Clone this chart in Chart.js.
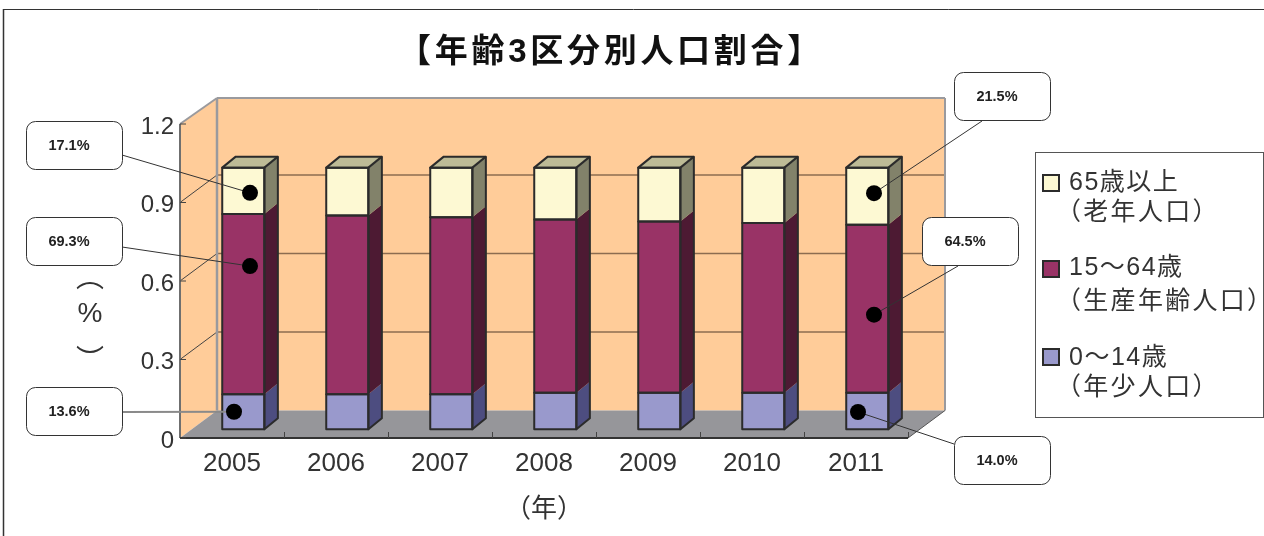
<!DOCTYPE html>
<html lang="ja">
<head>
<meta charset="utf-8">
<title>年齢3区分別人口割合</title>
<script src="https://cdn.jsdelivr.net/npm/chart.js@4"></script>
<style>
  html, body { margin: 0; padding: 0; background: #fff; overflow: hidden; }
  canvas { display: block; }
</style>
</head>
<body>
<canvas id="myChart" width="1264" height="536"></canvas>
<script>
const categories = ['2005', '2006', '2007', '2008', '2009', '2010', '2011'];
const young = [0.134, 0.134, 0.134, 0.14, 0.14, 0.14, 0.14];
const working = [0.689, 0.683, 0.676, 0.662, 0.654, 0.648, 0.642];
const old = [0.177, 0.183, 0.19, 0.198, 0.206, 0.212, 0.218];
const yTickLabels = { 0: '0', 0.3: '0.3', 0.6: '0.6', 0.9: '0.9', 1.2: '1.2' };
const legendLines = [
    ['65歳以上', '（老年人口）'],
    ['15～64歳', '（生産年齢人口）'],
    ['0～14歳', '（年少人口）'],
];
const calloutLabels = ['13.6%', '69.3%', '17.1%', '14.0%', '64.5%', '21.5%'];

const jpFont = '"Liberation Sans", "Noto Sans CJK JP", sans-serif';
const textColor = '#333333';
const edgeColor = '#2b2b2b';

// depth of the box and of the bars
const boxDepth = { x: 37, y: 27.5, top: 26 };
const barShift = { x: 11.3, y: 8.7 };
const barDepth = { x: 13.5, y: 11 };

// index 0 = bottom of the stack
const faceColors = ['#9999cc', '#993366', '#fdf9d3'];
const sideColors = ['#4d4d80', '#4d1a33', '#82826a'];
const topColor = '#bdbb96';

// dataset, category, dot offset from the segment centre, box, where the leader leaves the box
const callouts = [
    { ds: 0, cat: 0, dx: -9.3, dy: 0, box: [26, 387], from: [122, 412], color: '#8a8a8a', width: 2 },
    { ds: 1, cat: 0, dx: 6.7, dy: -38, box: [26, 217], from: [122, 247] },
    { ds: 2, cat: 0, dx: 6.7, dy: 2, box: [26, 121], from: [122, 155] },
    { ds: 0, cat: 6, dx: -9.3, dy: 1, box: [954, 436], from: [954, 444] },
    { ds: 1, cat: 6, dx: 6.7, dy: 6, box: [922, 217], from: [958, 266] },
    { ds: 2, cat: 6, dx: 6.7, dy: -3, box: [954, 72], from: [982, 121] },
];

const legendBox = { x: 1035, y: 152, w: 228, h: 265 };
const legendRows = [
    { swatch: 174, line1: 183, line2: 213, color: 2 },
    { swatch: 260, line1: 268, line2: 302, color: 1 },
    { swatch: 348, line1: 358, line2: 388, color: 0 },
];

function poly(ctx, pts) {
    ctx.beginPath();
    pts.forEach((p, i) => (i ? ctx.lineTo(p[0], p[1]) : ctx.moveTo(p[0], p[1])));
    ctx.closePath();
}

function line(ctx, x1, y1, x2, y2, color, width) {
    ctx.strokeStyle = color;
    ctx.lineWidth = width;
    ctx.beginPath();
    ctx.moveTo(x1, y1);
    ctx.lineTo(x2, y2);
    ctx.stroke();
}

function drawBox(chart) {
    const ctx = chart.ctx;
    const { left, right, top, bottom } = chart.chartArea;
    const dx = boxDepth.x;
    const dy = boxDepth.y;
    const topY = top - boxDepth.top;
    ctx.save();

    // outer frame
    line(ctx, 3, 9.5, 1264, 9.5, '#333', 1);
    line(ctx, 3.5, 9, 3.5, 536, '#333', 1.5);

    // walls and floor
    ctx.fillStyle = '#ffcc99';
    poly(ctx, [[left, top], [left + dx, topY], [right + dx, topY], [right + dx, bottom - dy], [left + dx, bottom - dy], [left, bottom]]);
    ctx.fill();
    ctx.fillStyle = '#96969a';
    poly(ctx, [[left, bottom], [left + dx, bottom - dy], [right + dx, bottom - dy], [right, bottom]]);
    ctx.fill();

    // grid on the back wall and its run over the side wall
    const yScale = chart.scales.y;
    yScale.ticks.forEach(t => {
        const y = yScale.getPixelForValue(t.value);
        if (t.value > 0 && t.value < 1.2) {
            line(ctx, left, y, left + dx, y - dy, '#444', 1);
            line(ctx, left + dx, y - dy, right + dx, y - dy, '#8c6c50', 1.5);
        }
    });

    // box edges
    line(ctx, left + dx, topY, left + dx, bottom - dy, '#9a9a9e', 2.5);
    line(ctx, left, top, left + dx, topY, '#9a9a9e', 2);
    line(ctx, left + dx, topY, right + dx, topY, '#9a9a9e', 2);
    line(ctx, right + dx, topY, right + dx, bottom - dy, '#9a9a9e', 2);
    line(ctx, left, top, left, bottom, '#6f6f6f', 2);
    line(ctx, left, bottom, right, bottom, '#333', 2);
    line(ctx, right, bottom, right + dx, bottom - dy, '#555', 1);

    // tick marks point into the box, y labels sit a little under their tick
    ctx.fillStyle = textColor;
    ctx.font = '24px "Liberation Sans"';
    ctx.textAlign = 'right';
    ctx.textBaseline = 'middle';
    yScale.ticks.forEach(t => {
        const y = yScale.getPixelForValue(t.value);
        line(ctx, left, y, left + 6, y, '#444', 1);
        ctx.fillText(yTickLabels[Math.round(t.value * 10) / 10], left - 6, y + 3);
    });
    const band = (right - left) / categories.length;
    categories.forEach((c, i) => {
        const x = Math.round(left + band * (i + 1)) + 0.5;
        line(ctx, x, bottom, x, bottom - 6, '#444', 1);
    });
    ctx.restore();
}

function drawBarDepth(chart) {
    const ctx = chart.ctx;
    const dx = barDepth.x;
    const dy = barDepth.y;
    categories.forEach((c, i) => {
        let right, left, barTop;
        chart.data.datasets.forEach((d, k) => {
            const bar = chart.getDatasetMeta(k).data[i];
            right = bar.x + bar.width / 2;
            left = bar.x - bar.width / 2;
            barTop = bar.y;
            ctx.fillStyle = sideColors[k];
            poly(ctx, [[right, bar.y], [right + dx, bar.y - dy], [right + dx, bar.base - dy], [right, bar.base]]);
            ctx.fill();
        });
        ctx.fillStyle = topColor;
        poly(ctx, [[left, barTop], [left + dx, barTop - dy], [right + dx, barTop - dy], [right, barTop]]);
        ctx.fill();
    });
}

function drawBarEdges(chart) {
    const ctx = chart.ctx;
    const dx = barDepth.x;
    const dy = barDepth.y;
    ctx.save();
    ctx.strokeStyle = edgeColor;
    ctx.lineWidth = 2;
    ctx.lineJoin = 'round';
    categories.forEach((c, i) => {
        let right, left, barTop, barBottom;
        chart.data.datasets.forEach((d, k) => {
            const bar = chart.getDatasetMeta(k).data[i];
            left = bar.x - bar.width / 2;
            right = bar.x + bar.width / 2;
            barTop = bar.y;
            if (k === 0) barBottom = bar.base;
            ctx.strokeRect(left, bar.y, bar.width, bar.base - bar.y);
        });
        poly(ctx, [[left, barTop], [left + dx, barTop - dy], [right + dx, barTop - dy], [right + dx, barBottom - dy], [right, barBottom], [right, barTop]]);
        ctx.stroke();
        ctx.beginPath();
        ctx.moveTo(right, barTop);
        ctx.lineTo(right + dx, barTop - dy);
        ctx.stroke();
    });
    ctx.restore();
}

function drawCallouts(chart) {
    const ctx = chart.ctx;
    ctx.save();
    callouts.forEach((c, i) => {
        const bar = chart.getDatasetMeta(c.ds).data[c.cat];
        const x = bar.x + barShift.x + c.dx;
        const y = (bar.y + bar.base) / 2 - barShift.y + c.dy;

        line(ctx, c.from[0], c.from[1], x, y, c.color || '#333', c.width || 1);
        ctx.fillStyle = '#000';
        ctx.beginPath();
        ctx.arc(x, y, 8, 0, Math.PI * 2);
        ctx.fill();

        ctx.fillStyle = '#fff';
        ctx.strokeStyle = '#333';
        ctx.lineWidth = 1;
        ctx.beginPath();
        ctx.roundRect(c.box[0] + 0.5, c.box[1] + 0.5, 96, 48, 9);
        ctx.fill();
        ctx.stroke();

        ctx.fillStyle = '#222';
        ctx.font = 'bold 14.5px "Liberation Sans"';
        ctx.textAlign = 'center';
        ctx.textBaseline = 'middle';
        ctx.fillText(calloutLabels[i], c.box[0] + 43, c.box[1] + 25);
    });
    ctx.restore();
}

function drawLegend(chart) {
    const ctx = chart.ctx;
    ctx.save();
    ctx.fillStyle = '#fff';
    ctx.fillRect(legendBox.x, legendBox.y, legendBox.w, legendBox.h);
    ctx.strokeStyle = '#555';
    ctx.lineWidth = 1;
    ctx.strokeRect(legendBox.x + 0.5, legendBox.y + 0.5, legendBox.w, legendBox.h);

    ctx.textAlign = 'left';
    ctx.textBaseline = 'middle';
    ctx.font = '25px ' + jpFont;
    legendRows.forEach((r, i) => {
        ctx.fillStyle = faceColors[r.color];
        ctx.strokeStyle = edgeColor;
        ctx.lineWidth = 2;
        ctx.fillRect(1043, r.swatch + 1, 16, 16);
        ctx.strokeRect(1043, r.swatch + 1, 16, 16);
        ctx.fillStyle = textColor;
        ctx.letterSpacing = '1.5px';
        ctx.fillText(legendLines[i][0], 1069, r.line1);
        ctx.letterSpacing = '2.3px';
        ctx.fillText(legendLines[i][1], 1056, r.line2);
    });
    ctx.restore();
}

function drawTexts(chart) {
    const ctx = chart.ctx;
    ctx.save();
    ctx.textAlign = 'center';
    ctx.textBaseline = 'middle';
    ctx.fillStyle = '#111';
    ctx.font = 'bold 33px ' + jpFont;
    ctx.letterSpacing = '3.7px';
    ctx.fillText('【年齢3区分別人口割合】', 611, 53);
    ctx.letterSpacing = '0px';

    // y axis title stands upright, brackets turned on their side
    ctx.fillStyle = textColor;
    ctx.font = '28px ' + jpFont;
    ctx.fillText('%', 90, 314);
    ctx.fillText('︵', 90, 279);
    ctx.fillText('︶', 90, 362);
    ctx.restore();
}

const boxPlugin = {
    id: 'box3d',
    beforeDatasetsDraw(chart) {
        drawBox(chart);
        chart.ctx.save();
        chart.ctx.translate(barShift.x, -barShift.y);
        drawBarDepth(chart);
    },
    afterDatasetsDraw(chart) {
        drawBarEdges(chart);
        chart.ctx.restore();
        drawCallouts(chart);
        drawLegend(chart);
        drawTexts(chart);
    },
};

const ctx = document.getElementById('myChart').getContext('2d');
new Chart(ctx, {
    type: 'bar',
    data: {
        labels: categories,
        datasets: [young, working, old].map((values, i) => ({
            label: legendLines[2 - i][0],
            data: values,
            backgroundColor: faceColors[i],
            borderWidth: 0,
            barPercentage: 0.405,
            categoryPercentage: 1,
        })),
    },
    options: {
        responsive: false,
        animation: false,
        layout: { padding: { top: 124, right: 356, left: 0, bottom: 0 } },
        plugins: {
            legend: { display: false },
            title: { display: false },
            tooltip: { enabled: false },
        },
        scales: {
            x: {
                stacked: true,
                grid: { display: false },
                border: { display: false },
                ticks: {
                    color: textColor,
                    font: { family: 'Liberation Sans', size: 26 },
                    padding: 2,
                    maxRotation: 0,
                },
                title: {
                    display: true,
                    text: '（年）',
                    color: textColor,
                    font: { family: 'Noto Sans CJK JP', size: 26 },
                    padding: { top: 0, bottom: 13 },
                },
                afterFit(scale) { scale.height = 98; },
            },
            y: {
                stacked: true,
                min: 0,
                max: 1.2,
                grid: { display: false },
                border: { display: false },
                ticks: { stepSize: 0.3, display: false },
                afterFit(scale) { scale.width = 180; },
            },
        },
    },
    plugins: [boxPlugin],
});
</script>
</body>
</html>
